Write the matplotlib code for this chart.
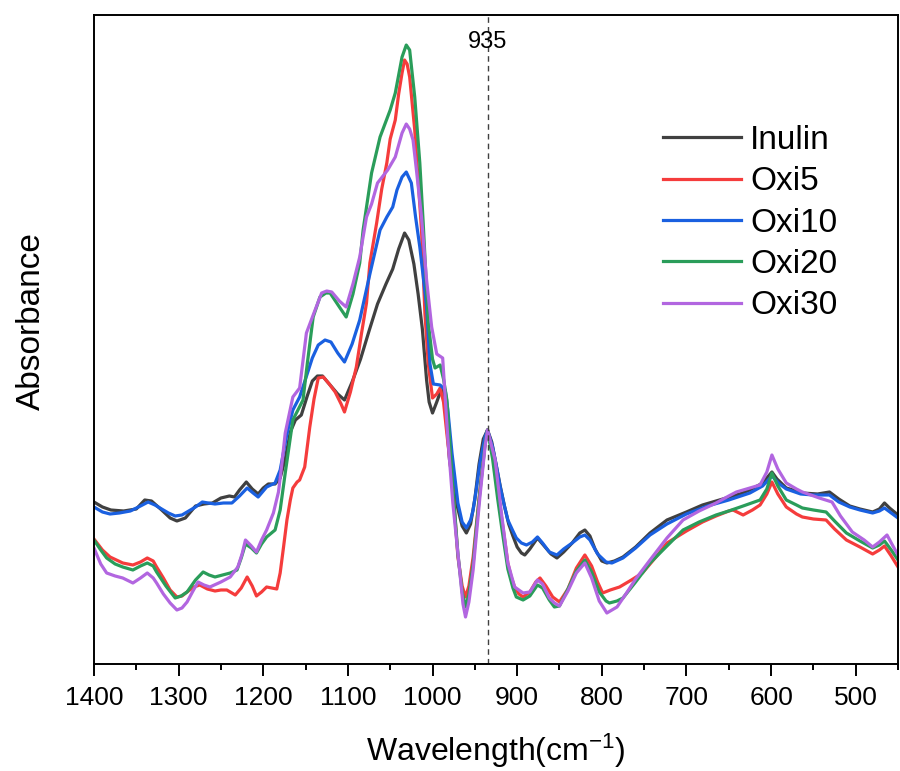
import matplotlib
matplotlib.use('Agg')
import matplotlib.pyplot as plt
from matplotlib.ticker import MultipleLocator

plt.rcParams['font.family'] = ['Liberation Sans', 'DejaVu Sans']
plt.rcParams['mathtext.default'] = 'regular'

# Absorbance in arbitrary units (height above baseline)
wn_inulin = [1400, 1390, 1380, 1365, 1350, 1340, 1332, 1320, 1310, 1302, 1292, 1280, 1270, 1260,
             1250, 1240, 1234, 1228, 1220, 1213, 1206, 1200, 1194, 1186, 1180, 1174, 1168, 1162,
             1155, 1148, 1142, 1136, 1130, 1122, 1112, 1104, 1095, 1085, 1075, 1065, 1055, 1047,
             1040, 1033, 1028, 1022, 1017, 1012, 1007, 1004, 1000, 995, 989, 985, 980, 975, 970,
             965, 960, 955, 950, 945, 940, 935, 930, 925, 920, 915, 910, 905, 900, 895, 891,
             885, 876, 868, 860, 853, 845, 835, 826, 820, 814, 808, 800, 794, 785, 775, 760,
             743, 723, 700, 681, 665, 649, 637, 625, 612, 605, 599, 593, 582, 570, 563, 545,
             531, 520, 507, 495, 480, 472, 466, 460, 450]
inulin = [162, 157, 154, 153, 155, 164, 163, 154, 146, 143, 146, 158, 160, 161,
          166, 168, 167, 174, 182, 175, 170, 176, 180, 180, 186, 205, 232, 244,
          249, 268, 283, 288, 288, 280, 270, 264, 282, 305, 333, 360, 380, 395,
          415, 431, 424, 400, 370, 335, 284, 262, 251, 262, 276, 262, 205, 175, 155,
          138, 131, 140, 165, 200, 225, 234, 222, 200, 178, 158, 140, 128, 117, 111, 109,
          115, 126, 118, 110, 106, 112, 121, 131, 134, 128, 115, 103, 101, 103, 107, 117,
          131, 144, 152, 159, 163, 167, 170, 174, 180, 186, 192, 185, 176, 173, 171, 170,
          172, 165, 158, 155, 152, 155, 161, 156, 149]

wn_oxi10 = [1400, 1390, 1381, 1370, 1357, 1345, 1336, 1328, 1322, 1312, 1304, 1296, 1290, 1280,
            1272, 1265, 1257, 1247, 1237, 1228, 1219, 1212, 1206, 1200, 1196, 1186, 1180, 1172,
            1165, 1157, 1150, 1142, 1135, 1127, 1120, 1112, 1104, 1095, 1086, 1074, 1062, 1054,
            1047, 1042, 1036, 1031, 1025, 1020, 1015, 1010, 1007, 1003, 999, 991, 985, 982, 977,
            970, 965, 960, 955, 952, 948, 944, 938, 935, 929, 925, 920, 915, 911, 905, 901, 895,
            889, 882, 876, 870, 862, 853, 845, 835, 826, 820, 814, 805, 795, 788, 775, 760, 743,
            723, 700, 675, 650, 625, 610, 599, 590, 582, 565, 550, 531, 520, 507, 495, 480, 472,
            466, 458, 450]
oxi10 = [157, 152, 150, 151, 153, 158, 162, 159, 156, 151, 148, 149, 152, 157,
         162, 161, 160, 161, 161, 168, 176, 171, 167, 173, 177, 181, 194, 230,
         254, 267, 285, 306, 319, 324, 322, 311, 302, 320, 344, 390, 434, 447,
         457, 474, 487, 492, 481, 447, 417, 380, 357, 300, 280, 279, 274, 255, 211,
         161, 142, 136, 144, 154, 176, 201, 227, 234, 217, 200, 177, 158, 144, 133, 126, 121,
         119, 122, 127, 121, 112, 109, 115, 121, 127, 129, 124, 110, 102, 101, 106, 116, 129,
         140, 150, 158, 164, 171, 178, 188, 180, 175, 170, 169, 169, 162, 157, 154, 151, 153,
         156, 151, 146]

wn_oxi5 = [1400, 1390, 1381, 1366, 1354, 1345, 1337, 1330, 1326, 1318, 1310, 1302, 1296, 1290,
           1282, 1275, 1266, 1257, 1250, 1243, 1233, 1226, 1219, 1213, 1208, 1202, 1196, 1190,
           1184, 1180, 1176, 1172, 1168, 1165, 1160, 1157, 1151, 1145, 1140, 1135, 1129, 1122,
           1115, 1108, 1104, 1097, 1090, 1084, 1078, 1074, 1066, 1060, 1054, 1050, 1044, 1040,
           1036, 1033, 1030, 1027, 1021, 1017, 1013, 1009, 1005, 1000, 995, 991, 987, 983, 976,
           970, 965, 961, 957, 952, 948, 944, 938, 935, 929, 923, 918, 911, 907, 903, 898, 893,
           885, 878, 873, 866, 858, 850, 840, 830, 820, 812, 805, 799, 790, 779, 765, 752, 735,
           723, 700, 681, 665, 650, 645, 633, 622, 613, 605, 599, 592, 582, 570, 563, 550, 535,
           525, 511, 495, 480, 472, 466, 458, 450]
oxi5 = [125, 114, 107, 101, 99, 102, 106, 103, 97, 86, 74, 67, 68, 72,
        77, 79, 75, 73, 74, 74, 69, 76, 87, 78, 68, 72, 77, 76,
        75, 91, 117, 144, 164, 176, 182, 184, 197, 237, 265, 286, 287, 280,
        272, 260, 252, 272, 297, 330, 361, 401, 441, 475, 501, 525, 544, 570,
        591, 604, 600, 587, 534, 484, 434, 351, 300, 266, 270, 276, 262, 230, 177,
        107, 78, 67, 78, 107, 140, 174, 221, 234, 211, 175, 144, 101, 87, 77, 70, 67,
        72, 82, 86, 78, 67, 62, 75, 96, 109, 98, 82, 71, 74, 77, 84, 91, 108,
        121, 133, 142, 148, 153, 154, 149, 154, 159, 170, 182, 170, 157, 150, 147, 145, 144,
        135, 124, 117, 110, 114, 118, 108, 97]

wn_oxi20 = [1400, 1392, 1385, 1375, 1366, 1354, 1345, 1337, 1330, 1326, 1315, 1304, 1297, 1290,
            1280, 1271, 1264, 1257, 1248, 1239, 1231, 1226, 1221, 1214, 1208, 1202, 1196, 1186,
            1180, 1174, 1165, 1153, 1148, 1141, 1133, 1126, 1121, 1110, 1102, 1094, 1086, 1082,
            1072, 1062, 1050, 1044, 1036, 1031, 1027, 1021, 1015, 1011, 1005, 1000, 997, 991,
            987, 983, 976, 970, 965, 961, 957, 952, 948, 944, 938, 935, 929, 923, 918, 911, 905,
            901, 893, 885, 876, 870, 862, 856, 850, 840, 830, 820, 812, 803, 795, 791, 782, 775,
            760, 743, 723, 704, 685, 665, 650, 633, 613, 605, 599, 592, 582, 570, 563, 550, 535,
            525, 511, 495, 480, 472, 466, 458, 450]
oxi20 = [124, 114, 106, 100, 97, 94, 98, 101, 98, 92, 78, 66, 68, 72,
         84, 92, 89, 87, 89, 91, 94, 106, 120, 116, 111, 120, 127, 134,
         154, 191, 244, 264, 300, 347, 367, 371, 371, 357, 347, 370, 401, 434,
         491, 527, 554, 571, 607, 619, 614, 567, 501, 441, 341, 305, 296, 299,
         285, 264, 177, 110, 72, 57, 70, 100, 138, 172, 219, 234, 205, 165, 135, 95, 76,
         67, 64, 68, 79, 76, 64, 57, 58, 75, 93, 104, 92, 72, 63, 61, 63, 66,
         82, 101, 118, 134, 142, 149, 153, 158, 164, 175, 191, 178, 164, 159, 156, 154, 152,
         143, 131, 123, 116, 119, 123, 114, 104]

wn_oxi30 = [1400, 1392, 1385, 1375, 1366, 1354, 1345, 1337, 1330, 1326, 1318, 1310, 1302, 1296,
            1290, 1283, 1277, 1270, 1263, 1250, 1239, 1230, 1225, 1221, 1214, 1208, 1202, 1196,
            1188, 1182, 1178, 1174, 1165, 1157, 1149, 1141, 1131, 1125, 1119, 1110, 1102, 1094,
            1086, 1078, 1072, 1065, 1053, 1044, 1036, 1031, 1027, 1023, 1019, 1013, 1007, 1001,
            995, 988, 982, 976, 968, 964, 961, 957, 952, 944, 938, 935, 926, 918, 911, 903, 893,
            885, 876, 870, 862, 856, 850, 840, 830, 820, 812, 803, 794, 782, 770, 760, 743, 723,
            704, 685, 665, 650, 641, 625, 613, 605, 599, 592, 582, 570, 563, 543, 528, 518, 504,
            490, 480, 472, 463, 456, 450]
oxi30 = [116, 100, 91, 88, 86, 81, 86, 91, 86, 81, 70, 61, 54, 56,
         62, 73, 82, 79, 77, 82, 87, 97, 110, 124, 118, 112, 124, 134,
         151, 172, 200, 231, 267, 276, 331, 349, 371, 373, 372, 363, 357, 380,
         407, 447, 460, 481, 494, 507, 531, 540, 535, 524, 494, 447, 384, 337,
         310, 306, 227, 161, 94, 60, 47, 62, 94, 167, 217, 234, 204, 147, 101, 77, 71,
         72, 84, 80, 66, 61, 58, 73, 91, 101, 86, 63, 51, 57, 72, 85, 104, 126,
         144, 153, 161, 168, 172, 176, 179, 192, 209, 195, 181, 175, 172, 166, 162, 148, 132,
         124, 117, 122, 129, 118, 109]

series = [
    ('Inulin', wn_inulin, inulin, '#404040'),
    ('Oxi5', wn_oxi5, oxi5, '#F53C3C'),
    ('Oxi10', wn_oxi10, oxi10, '#1A60E0'),
    ('Oxi20', wn_oxi20, oxi20, '#2A9D5A'),
    ('Oxi30', wn_oxi30, oxi30, '#B266E0'),
]

fig = plt.figure(figsize=(9, 7.71), dpi=100)
ax = fig.add_axes([0.1044, 0.1388, 0.8934, 0.8417])

for name, x, y, c in series:
    ax.plot(x, y, color=c, linewidth=2.3, label=name, solid_joinstyle='round')

ax.axvline(935, color='#404040', linestyle=(0, (4, 3)), linewidth=1.0)
ax.text(935, 622, '935', ha='center', va='center', fontsize=17)

ax.set_xlim(1400, 450)
ax.set_ylim(0, 649)
ax.xaxis.set_major_locator(MultipleLocator(100))
ax.xaxis.set_minor_locator(MultipleLocator(50))
ax.set_yticks([])
ax.tick_params(axis='x', which='major', length=8.5, width=1.4, labelsize=19, pad=7)
ax.tick_params(axis='x', which='minor', length=4.3, width=1.4)
for s in ax.spines.values():
    s.set_linewidth(1.4)

ax.set_xlabel('Wavelength(cm$^{-1}$)', fontsize=23, labelpad=16)
ax.set_ylabel('Absorbance', fontsize=24)
ax.yaxis.set_label_coords(-0.058, 0.528)

ax.legend(loc='upper left', bbox_to_anchor=(0.708, 0.8305), frameon=False, fontsize=24,
          handlelength=2.34, handletextpad=0.27, labelspacing=0.31, borderaxespad=0,
          borderpad=0)

fig.savefig('out.png', dpi=100)
